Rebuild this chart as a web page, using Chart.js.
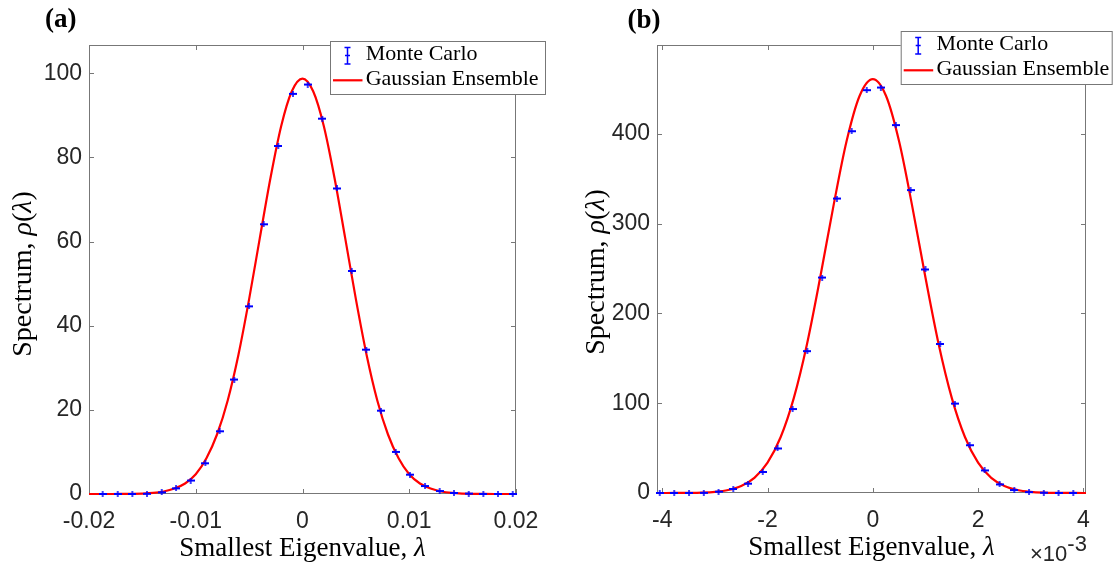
<!DOCTYPE html>
<html>
<head>
<meta charset="utf-8">
<script src="https://cdn.jsdelivr.net/npm/chart.js@4.4.0/dist/chart.umd.min.js"></script>
<style>
  body { margin: 0; background: #fff; }
  #wrap { position: relative; width: 1115px; height: 562px; }
  #wrap canvas { position: absolute; top: 0; }
</style>
</head>
<body>
<div id="wrap">
  <canvas id="chartA" width="557" height="562" style="left:0"></canvas>
  <canvas id="chartB" width="558" height="562" style="left:557px"></canvas>
</div>
<script>
// ---- panel (a) ----
const mcLambdaA = [-0.01872, -0.01731, -0.01594, -0.01457, -0.01319, -0.01185, -0.01048, -0.00910, -0.00776, -0.00639,
  -0.00501, -0.00364, -0.00227, -0.00089, 0.00049, 0.00186, 0.00323, 0.00461, 0.00598, 0.00735,
  0.00873, 0.01007, 0.01148, 0.01285, 0.01419, 0.01557, 0.01694, 0.01831, 0.01969];
const mcRhoA = [0.0, 0.0, 0.0, 0.05, 0.4, 1.35, 3.2, 7.3, 14.9, 27.2,
  44.6, 64.1, 82.7, 95.1, 97.3, 89.2, 72.6, 53.0, 34.3, 19.8,
  10.0, 4.6, 1.9, 0.7, 0.24, 0.1, 0.0, 0.0, 0.0];
const geLambdaA = [-0.020, -0.019, -0.018, -0.017, -0.016, -0.015, -0.014, -0.013, -0.012, -0.011,
  -0.010, -0.009, -0.008, -0.007, -0.006, -0.005, -0.004, -0.003, -0.002, -0.001, 0,
  0.001, 0.002, 0.003, 0.004, 0.005, 0.006, 0.007, 0.008, 0.009, 0.010,
  0.011, 0.012, 0.013, 0.014, 0.015, 0.016, 0.017, 0.018, 0.019, 0.020];
const geRhoA = [0, 0, 0, 0.01, 0.04, 0.1, 0.25, 0.6, 1.3, 2.5,
  4.7, 8.5, 14.2, 22.3, 33.1, 46.3, 60.8, 75.1, 87.4, 95.7, 98.7,
  95.7, 87.4, 75.1, 60.8, 46.3, 33.1, 22.3, 14.2, 8.5, 4.7,
  2.5, 1.3, 0.6, 0.25, 0.1, 0.04, 0.01, 0, 0, 0];
const xTicksA = [-0.02, -0.01, 0, 0.01, 0.02];
const yTicksA = [0, 20, 40, 60, 80, 100];

// ---- panel (b) ----
const mcLambdaB = [-4.048e-3, -3.773e-3, -3.491e-3, -3.211e-3, -2.931e-3, -2.651e-3, -2.371e-3, -2.091e-3, -1.810e-3, -1.524e-3,
  -1.244e-3, -0.962e-3, -0.682e-3, -0.402e-3, -0.116e-3, 0.152e-3, 0.438e-3, 0.718e-3, 1.000e-3, 1.280e-3,
  1.560e-3, 1.838e-3, 2.124e-3, 2.408e-3, 2.688e-3, 2.968e-3, 3.248e-3, 3.528e-3, 3.808e-3];
const mcRhoB = [0, 0, 0, 0.2, 1.5, 4.5, 10.4, 23.4, 49.6, 93.5,
  158, 240, 328, 403, 448.7, 451.6, 409.8, 337.4, 249, 166,
  99.6, 53.2, 25.2, 9.6, 3.3, 1.0, 0.3, 0, 0];
const geLambdaB = [-4.10e-3, -4.00e-3, -3.75e-3, -3.50e-3, -3.25e-3, -3.00e-3, -2.75e-3, -2.50e-3, -2.25e-3, -2.00e-3,
  -1.75e-3, -1.50e-3, -1.25e-3, -1.00e-3, -0.75e-3, -0.50e-3, -0.25e-3, 0,
  0.25e-3, 0.50e-3, 0.75e-3, 1.00e-3, 1.25e-3, 1.50e-3, 1.75e-3, 2.00e-3, 2.25e-3,
  2.50e-3, 2.75e-3, 3.00e-3, 3.25e-3, 3.50e-3, 3.75e-3, 4.00e-3, 4.05e-3];
const geRhoB = [0, 0.01, 0.05, 0.15, 0.46, 1.3, 3.3, 7.8, 16.9, 33.8,
  62.4, 106, 166, 240, 319, 391.5, 442.5, 461,
  442.5, 391.5, 319, 240, 166, 106, 62.4, 33.8, 16.9,
  7.8, 3.3, 1.3, 0.46, 0.15, 0.05, 0.01, 0];
const xTicksB = [-0.004, -0.002, 0, 0.002, 0.004];
const yTicksB = [0, 100, 200, 300, 400];

const axisColor = '#777777';
const tickColor = '#262626';
const serif = '"Liberation Serif", "Times New Roman", serif';
const sans = '"Liberation Sans", Arial, sans-serif';

// small "+" that the tiny error bars look like
function errMark() {
  const c = document.createElement('canvas');
  c.width = 8; c.height = 6;
  const g = c.getContext('2d');
  g.fillStyle = '#0000ff';
  g.fillRect(0, 2, 8, 2);
  g.fillRect(3.25, 0, 1.5, 6);
  return c;
}
const mark = errMark();

// box round the axes with inward ticks on all four sides
const boxPlugin = {
  id: 'mlBox',
  beforeDatasetsDraw(chart) {
    const { ctx, chartArea: a, scales: { x, y } } = chart;
    const len = 5;
    ctx.save();
    ctx.strokeStyle = axisColor;
    ctx.lineWidth = 1;
    ctx.strokeRect(a.left + 0.5, a.top + 0.5, a.right - a.left - 1, a.bottom - a.top - 1);
    ctx.beginPath();
    x.ticks.forEach(t => {
      const px = Math.round(x.getPixelForValue(t.value)) + 0.5;
      ctx.moveTo(px, a.bottom); ctx.lineTo(px, a.bottom - len);
      ctx.moveTo(px, a.top); ctx.lineTo(px, a.top + len);
    });
    y.ticks.forEach(t => {
      const py = Math.round(y.getPixelForValue(t.value)) + 0.5;
      ctx.moveTo(a.left, py); ctx.lineTo(a.left + len, py);
      ctx.moveTo(a.right, py); ctx.lineTo(a.right - len, py);
    });
    ctx.stroke();
    ctx.restore();
  }
};

function drawParts(ctx, parts, x, y) {
  let w = 0;
  parts.forEach(p => { ctx.font = p[1]; w += ctx.measureText(p[0]).width; });
  let cx = x - w / 2;
  parts.forEach(p => {
    ctx.font = p[1];
    ctx.fillText(p[0], cx, y);
    cx += ctx.measureText(p[0]).width;
  });
}

// legend, axis titles and panel letter
const textPlugin = {
  id: 'mlText',
  afterDraw(chart, args, o) {
    const { ctx, chartArea: a } = chart;
    ctx.save();
    ctx.fillStyle = '#000';
    ctx.textBaseline = 'middle';
    ctx.textAlign = 'left';

    const xf = '27px ' + serif, xi = 'italic 27px ' + serif;
    drawParts(ctx, [['Smallest Eigenvalue, ', xf], ['\u03bb', xi]], (a.left + a.right) / 2, o.xTitleY);

    const yf = '28px ' + serif, yi = 'italic 28px ' + serif;
    ctx.save();
    ctx.translate(o.yTitleX, o.yTitleY);
    ctx.rotate(-Math.PI / 2);
    drawParts(ctx, [['Spectrum, ', yf], ['\u03c1', yi], ['(', yf], ['\u03bb', yi], [')', yf]], 0, 0);
    ctx.restore();

    ctx.font = 'bold 27px ' + serif;
    ctx.fillText(o.panel, o.panelX, o.panelY);

    if (o.exponent) {
      ctx.fillStyle = tickColor;
      ctx.font = '22px ' + sans;
      ctx.fillText('\u00d710', o.exponent[0], o.exponent[1]);
      const w = ctx.measureText('\u00d710').width;
      ctx.fillText('-3', o.exponent[0] + w, o.exponent[1] - 10);
      ctx.fillStyle = '#000';
    }

    // legend
    const L = o.legend[0], T = o.legend[1], W = o.legend[2], H = o.legend[3];
    ctx.fillStyle = '#fff';
    ctx.fillRect(L, T, W, H);
    ctx.strokeStyle = axisColor;
    ctx.lineWidth = 1;
    ctx.strokeRect(L + 0.5, T + 0.5, W, H);
    const ix = L + 17.5;
    ctx.strokeStyle = '#0000ff';
    ctx.lineWidth = 1.5;
    ctx.beginPath();
    ctx.moveTo(ix, T + 6); ctx.lineTo(ix, T + 23.5);
    ctx.moveTo(ix - 3, T + 6.5); ctx.lineTo(ix + 3, T + 6.5);
    ctx.moveTo(ix - 3, T + 23); ctx.lineTo(ix + 3, T + 23);
    ctx.moveTo(ix - 2.5, T + 14.5); ctx.lineTo(ix + 2.5, T + 14.5);
    ctx.stroke();
    ctx.strokeStyle = '#ff0000';
    ctx.lineWidth = 2.2;
    ctx.beginPath();
    ctx.moveTo(L + 3, T + 39.3); ctx.lineTo(L + 32.5, T + 39.3);
    ctx.stroke();
    ctx.fillStyle = '#000';
    ctx.font = '22px ' + serif;
    ctx.fillText('Monte Carlo', L + 35.7, T + 13.3);
    ctx.fillText('Gaussian Ensemble', L + 35.7, T + 38.6);
    ctx.restore();
  }
};

function makeChart(id, mcX, mcY, geX, geY, xTicks, yTicks, cfg) {
  const mc = mcX.map((v, i) => ({ x: v, y: mcY[i] }));
  const ge = geX.map((v, i) => ({ x: v, y: geY[i] }));
  return new Chart(document.getElementById(id), {
    type: 'scatter',
    data: {
      datasets: [
        { label: 'Monte Carlo', data: mc, pointStyle: mark, pointRadius: 4, clip: 6 },
        { label: 'Gaussian Ensemble', data: ge, showLine: true, pointRadius: 0, borderColor: '#ff0000',
          borderWidth: 2.2, cubicInterpolationMode: 'monotone', clip: 4 }
      ]
    },
    options: {
      responsive: false,
      animation: false,
      devicePixelRatio: 1,
      layout: { padding: { top: 45, right: cfg.padRight, bottom: 0, left: 0 } },
      plugins: { legend: { display: false }, tooltip: { enabled: false }, mlText: cfg.text },
      scales: {
        x: {
          type: 'linear', min: cfg.xMin, max: cfg.xMax,
          grid: { display: false, drawTicks: false }, border: { display: false },
          afterBuildTicks: s => { s.ticks = xTicks.map(v => ({ value: v })); },
          afterFit: s => { s.height = 562 - cfg.bottom; },
          ticks: { padding: 14, color: tickColor, font: { family: sans, size: 23 }, maxRotation: 0,
            callback: cfg.xLabel }
        },
        y: {
          type: 'linear', min: 0, max: cfg.yMax,
          grid: { display: false, drawTicks: false }, border: { display: false },
          afterBuildTicks: s => { s.ticks = yTicks.map(v => ({ value: v })); },
          afterFit: s => { s.width = cfg.left; },
          ticks: { padding: 7, color: tickColor, font: { family: sans, size: 23 } }
        }
      }
    },
    plugins: [boxPlugin, textPlugin]
  });
}

makeChart('chartA', mcLambdaA, mcRhoA, geLambdaA, geRhoA, xTicksA, yTicksA, {
  xMin: -0.02, xMax: 0.02, yMax: 106.7, left: 89, padRight: 41, bottom: 494,
  xLabel: v => (v === 0 ? '0' : v.toFixed(2)),
  text: { xTitleY: 549, yTitleX: 24, yTitleY: 274, panel: '(a)', panelX: 45, panelY: 20,
    legend: [330, 41, 215, 53] }
});

makeChart('chartB', mcLambdaB, mcRhoB, geLambdaB, geRhoB, xTicksB, yTicksB, {
  xMin: -0.0041, xMax: 0.00405, yMax: 499, left: 100, padRight: 29, bottom: 493,
  xLabel: v => String(Math.round(v * 1000)),
  text: { xTitleY: 548, yTitleX: 39.5, yTitleY: 272, panel: '(b)', panelX: 70.6, panelY: 21,
    exponent: [473, 555], legend: [343.7, 31, 211, 53] }
});
</script>
</body>
</html>
